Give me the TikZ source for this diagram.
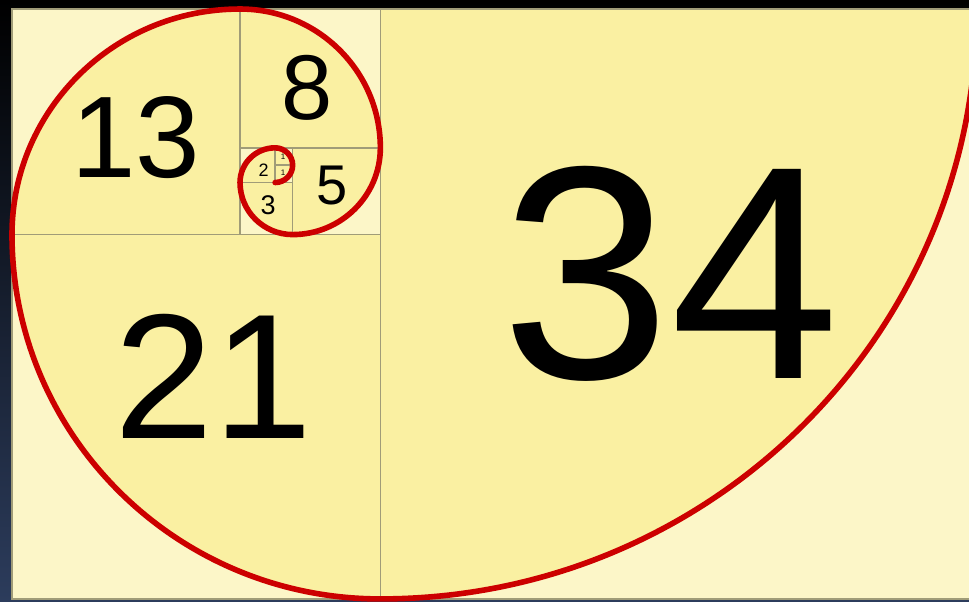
\documentclass[tikz,border=0pt]{standalone}
\usepackage{fontspec}
\setmainfont{Liberation Sans}
\definecolor{cream}{RGB}{252,246,200}
\definecolor{sunny}{RGB}{250,240,162}
\definecolor{gridline}{RGB}{160,156,120}
\definecolor{spiralred}{RGB}{204,0,0}
\definecolor{night}{RGB}{44,60,92}
\begin{document}
\begin{tikzpicture}[x=8.77pt, y=8.675pt,
  sq/.style={draw=gridline, line width=0.8pt},
  num/.style={inner sep=0pt, text=black, font=\fontsize{#1}{#1}\selectfont},
  spiral/.style={draw=spiralred, line width=2.8pt, line cap=round}]
\clip (-0.684,-0.173) rectangle (54.56,34.52);
\shade[top color=black, bottom color=night] (-0.684,-0.173) rectangle (54.56,34.52);
% squares and quarter disks
\fill[cream] (0,0) rectangle (55,34);
\foreach \cx/\cy/\r/\a in {15/25/1/270, 15/25/1/0, 15/24/2/90, 16/24/3/180, 16/26/5/270,
    13/26/8/0, 13/21/13/90, 21/21/21/180, 21/34/34/270}
  \fill[sunny] (\cx,\cy) -- ++(\a:\r) arc[start angle=\a, delta angle=90, radius=\r] -- cycle;
\foreach \x/\y/\s in {0/0/21, 21/0/34, 0/21/13, 13/26/8, 16/21/5, 13/21/3, 13/24/2, 15/25/1, 15/24/1}
  \draw[sq] (\x,\y) rectangle ++(\s,\s);
% spiral
\draw[spiral] (15,24) arc[start angle=270, end angle=360, radius=1]
  arc[start angle=0, end angle=90, radius=1]
  arc[start angle=90, end angle=180, radius=2]
  arc[start angle=180, end angle=270, radius=3]
  arc[start angle=270, end angle=360, radius=5]
  arc[start angle=0, end angle=90, radius=8]
  arc[start angle=90, end angle=180, radius=13]
  arc[start angle=180, end angle=270, radius=21]
  arc[start angle=270, end angle=360, radius=34];
% numbers
\node[num=152pt] (n34) at (37.57,18.73) {34};
\node[num=89pt] (n21) at (11.49,12.85) {21};
\node[num=58pt] (n13) at (7.07,26.6) {13};
\node[num=46pt] (n8) at (16.85,29.45) {8};
\node[num=28pt] (n5) at (18.24,23.8) {5};
\node[num=13.5pt] (n3) at (14.6,22.7) {3};
\node[num=9pt] (n2) at (14.34,24.73) {2};
\node[num=4pt] (n1a) at (15.45,25.48) {1};
\node[num=4pt] (n1b) at (15.45,24.55) {1};
\end{tikzpicture}
\end{document}
